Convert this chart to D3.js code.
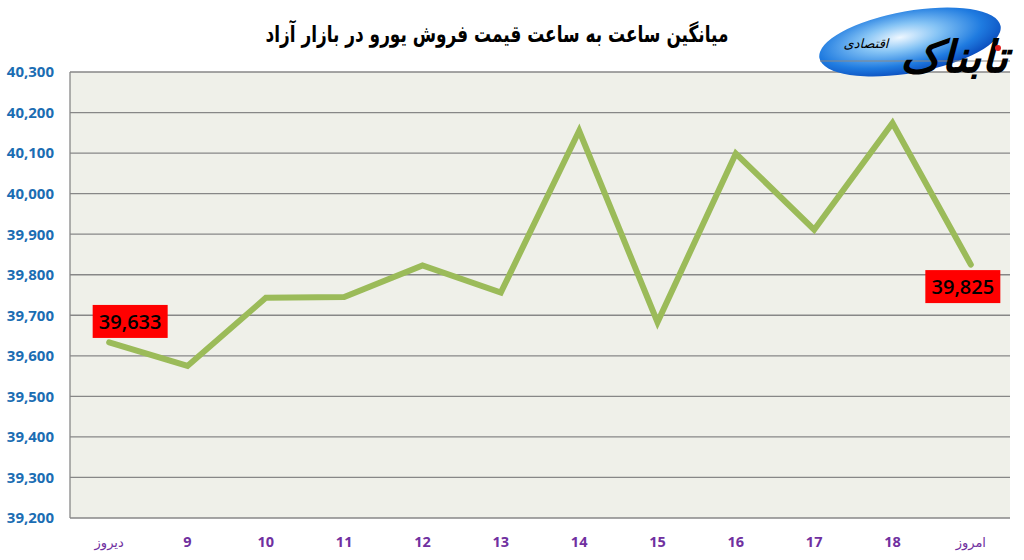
<!DOCTYPE html>
<html>
<head>
<meta charset="utf-8">
<script src="https://cdn.jsdelivr.net/npm/d3@7"></script>
<style>
  body { margin: 0; background: #fff; }
  svg { display: block; }
</style>
</head>
<body>
<div id="chart"></div>
<script>
// hourly labels (yesterday, 9..18, today)
const categories = ["دیروز", "9", "10", "11", "12", "13", "14", "15", "16", "17", "18", "امروز"];
const prices = [39633, 39575, 39743, 39745, 39823, 39756, 40155, 39683, 40099, 39911, 40174, 39825];
const yTickValues = [39200, 39300, 39400, 39500, 39600, 39700, 39800, 39900, 40000, 40100, 40200, 40300];
const labelled = [0, 11];
const titleText = "میانگین ساعت به ساعت قیمت فروش یورو در بازار آزاد";

const width = 1024, height = 560;
const plot = { left: 70, right: 1010, top: 72, bottom: 518 };

let svg = d3.select("#chart").append("svg")
        .attr("width", width)
        .attr("height", height);

let x = d3.scaleBand().domain(categories).range([plot.left, plot.right]);
let y = d3.scaleLinear().domain([39200, 40300]).range([plot.bottom, plot.top]);
let cx = d => x(d) + x.bandwidth() / 2;

// squeeze a text horizontally so it fills a given width
const fitWidth = (sel, anchorX, target) => {
        let w = sel.node().getComputedTextLength();
        if (w > 0) {
                let k = target / w;
                sel.attr("transform", "translate(" + anchorX + ",0) scale(" + k + ",1) translate(" + (-anchorX) + ",0)");
        }
};

// plot background
svg.append("rect")
        .attr("x", plot.left).attr("y", plot.top)
        .attr("width", plot.right - plot.left).attr("height", plot.bottom - plot.top)
        .attr("fill", "#eff0e9");

// gridlines
svg.append("g").selectAll("line").data(yTickValues).enter().append("line")
        .attr("x1", plot.left).attr("x2", plot.right)
        .attr("y1", d => y(d)).attr("y2", d => y(d))
        .attr("stroke", "#878787").attr("stroke-width", 1.3);

// left axis line
svg.append("line")
        .attr("x1", plot.left).attr("x2", plot.left)
        .attr("y1", plot.top).attr("y2", plot.bottom)
        .attr("stroke", "#878787").attr("stroke-width", 1.3);

// y tick labels
let fmt = d3.format(",");
svg.append("g").selectAll("text").data(yTickValues).enter().append("text")
        .attr("x", 54).attr("y", d => y(d))
        .attr("dy", "0.36em")
        .attr("text-anchor", "end")
        .attr("font-family", "'Open Sans', sans-serif")
        .attr("font-weight", "bold")
        .attr("font-size", 15)
        .attr("fill", "#1b6db3")
        .text(d => fmt(d));

// x labels
svg.append("g").selectAll("text").data(categories).enter().append("text")
        .attr("x", d => cx(d)).attr("y", 547)
        .attr("text-anchor", "middle")
        .attr("font-family", d => isNaN(+d) ? "'DejaVu Sans', sans-serif" : "'Open Sans', sans-serif")
        .attr("font-weight", d => isNaN(+d) ? "normal" : "bold")
        .attr("font-size", d => isNaN(+d) ? 13 : 14.5)
        .attr("fill", "#7030a0")
        .text(d => d);

// price line
let line = d3.line()
        .x((d, i) => cx(categories[i]))
        .y(d => y(d));
svg.append("path")
        .datum(prices)
        .attr("d", line)
        .attr("fill", "none")
        .attr("stroke", "#9bbb59")
        .attr("stroke-width", 6)
        .attr("stroke-linejoin", "miter")
        .attr("stroke-linecap", "round");

// value labels for first and last points
const boxOffset = { 0: [21, -21], 11: [-8, 22] };
let labels = svg.append("g").selectAll("g").data(labelled).enter().append("g")
        .attr("transform", i => "translate(" + (cx(categories[i]) + boxOffset[i][0]) + "," + (y(prices[i]) + boxOffset[i][1]) + ")");
labels.append("rect")
        .attr("x", -37.5).attr("y", -16.5)
        .attr("width", 75).attr("height", 33)
        .attr("fill", "#ff0000");
labels.append("text")
        .attr("text-anchor", "middle")
        .attr("dy", "0.36em")
        .attr("font-family", "'Open Sans', sans-serif")
        .attr("font-weight", 600)
        .attr("font-size", 20)
        .attr("fill", "#000")
        .text(i => fmt(prices[i]));

// title
let title = svg.append("text")
        .attr("x", 497).attr("y", 42)
        .attr("text-anchor", "middle")
        .attr("direction", "rtl")
        .attr("font-family", "'DejaVu Sans', sans-serif")
        .attr("font-weight", "bold")
        .attr("font-size", 23)
        .attr("fill", "#000")
        .text(titleText);
fitWidth(title, 497, 463);

// logo (site mark at top right)
let defs = svg.append("defs");
let grad = defs.append("radialGradient").attr("id", "logoGrad")
        .attr("cx", "45%").attr("cy", "40%").attr("r", "60%");
grad.append("stop").attr("offset", "0%").attr("stop-color", "#eef7ff");
grad.append("stop").attr("offset", "35%").attr("stop-color", "#86c4f5");
grad.append("stop").attr("offset", "75%").attr("stop-color", "#1f7be0");
grad.append("stop").attr("offset", "100%").attr("stop-color", "#0c4fbf");

let logo = svg.append("g");
logo.append("ellipse")
        .attr("cx", 910).attr("cy", 42).attr("rx", 92).attr("ry", 31)
        .attr("transform", "rotate(-10,910,42)")
        .attr("fill", "url(#logoGrad)");
logo.append("line")
        .attr("x1", 820).attr("x2", 1010).attr("y1", 61).attr("y2", 61)
        .attr("stroke", "#888").attr("stroke-width", 1);
let brand = logo.append("text")
        .attr("x", 954).attr("y", 72)
        .attr("text-anchor", "middle")
        .attr("font-family", "'DejaVu Sans', sans-serif")
        .attr("font-weight", "bold")
        .attr("font-style", "italic")
        .attr("font-size", 44)
        .attr("fill", "#000")
        .text("تابناک");
fitWidth(brand, 954, 108);
logo.append("text")
        .attr("x", 866).attr("y", 48)
        .attr("text-anchor", "middle")
        .attr("font-family", "'DejaVu Sans', sans-serif")
        .attr("font-style", "italic")
        .attr("font-size", 13)
        .attr("fill", "#000")
        .text("اقتصادی");
logo.append("circle")
        .attr("cx", 998).attr("cy", 48).attr("r", 3)
        .attr("fill", "#e02020");
</script>
</body>
</html>
